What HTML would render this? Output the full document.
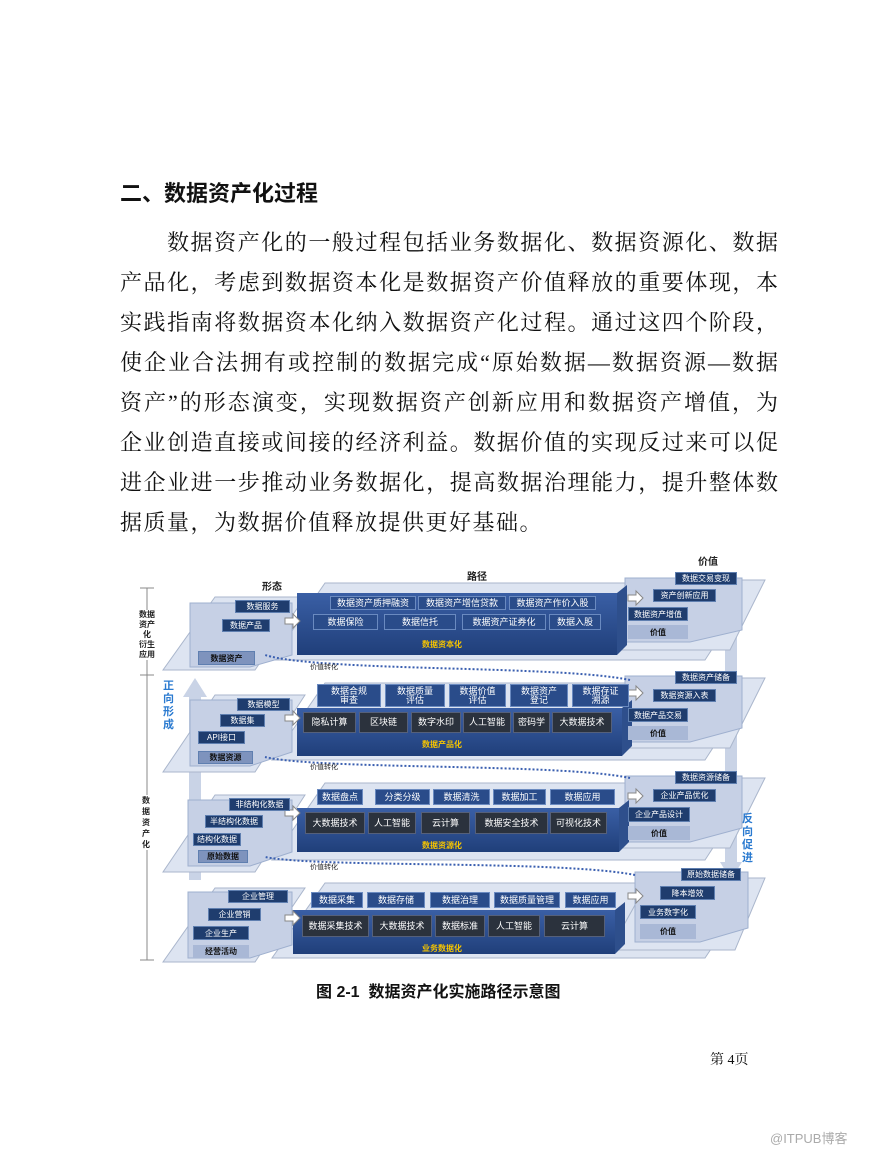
<!DOCTYPE html>
<html><head><meta charset="utf-8"><style>
body{margin:0;background:#fff;}
#p{position:relative;width:890px;height:1151px;overflow:hidden;font-family:"Liberation Sans","Noto Sans CJK SC",sans-serif;color:#111;}
.t{position:absolute;left:120px;width:658px;font-size:22px;line-height:26px;text-align:justify;text-align-last:justify;white-space:nowrap;font-family:"Liberation Serif","Noto Serif CJK SC",serif;}
.b{position:absolute;color:#fff;font-size:8px;display:flex;align-items:center;justify-content:center;text-align:center;line-height:9px;white-space:nowrap;}
.n{background:#1f3d6e;border:1px solid #5f7fb0;box-sizing:border-box;}
.k{background:#2b323d;border:1px solid #55607a;box-sizing:border-box;font-size:9px;}
.u{background:#2a4c8a;border:1px solid #6a8ac0;box-sizing:border-box;font-size:9px;}
.y{position:absolute;color:#f5c400;font-size:8px;font-weight:bold;}
.l{position:absolute;font-size:8px;color:#222;font-weight:bold;}
</style></head><body><div id="p">
<div style="position:absolute;left:120px;top:176px;font-size:22px;font-weight:bold;font-family:'Liberation Sans','Noto Sans CJK SC',sans-serif;">二、数据资产化过程</div>
<div class="t" style="top:230px;left:167px;width:611px">数据资产化的一般过程包括业务数据化、数据资源化、数据</div>
<div class="t" style="top:270px">产品化，考虑到数据资本化是数据资产价值释放的重要体现，本</div>
<div class="t" style="top:310px">实践指南将数据资本化纳入数据资产化过程。通过这四个阶段，</div>
<div class="t" style="top:350px">使企业合法拥有或控制的数据完成“原始数据—数据资源—数据</div>
<div class="t" style="top:390px">资产”的形态演变，实现数据资产创新应用和数据资产增值，为</div>
<div class="t" style="top:430px">企业创造直接或间接的经济利益。数据价值的实现反过来可以促</div>
<div class="t" style="top:470px">进企业进一步推动业务数据化，提高数据治理能力，提升整体数</div>
<div class="t" style="top:510px;text-align-last:left;letter-spacing:1.5px">据质量，为数据价值释放提供更好基础。</div>

<svg style="position:absolute;left:0;top:0" width="890" height="1151">
<defs><linearGradient id="g" x1="0" y1="0" x2="0" y2="1"><stop offset="0" stop-color="#3a5fa5"/><stop offset="1" stop-color="#203f7a"/></linearGradient></defs>
<g stroke="#888" stroke-width="1"><line x1="147" y1="588" x2="147" y2="960"/><line x1="140" y1="588" x2="154" y2="588"/><line x1="140" y1="675" x2="154" y2="675"/><line x1="140" y1="960" x2="154" y2="960"/></g>
<rect x="725" y="600" width="12" height="265" fill="#c9d3e6"/>
<polygon points="731,880 720,862 742,862" fill="#c9d3e6"/>
<rect x="189" y="695" width="12" height="185" fill="#c9d3e6"/>
<polygon points="195,678 183,697 207,697" fill="#c9d3e6"/>
<g fill="#dde4f1" stroke="#aab6cc">
<polygon points="215,597 305,597 255,670 163,670"/><polygon points="325,583 755,583 705,660 272,660"/><polygon points="645,580 765,580 730,650 605,650"/>
<polygon points="215,695 305,695 255,772 163,772"/><polygon points="325,683 755,683 705,760 272,760"/><polygon points="645,678 765,678 730,748 605,748"/>
<polygon points="215,795 305,795 255,872 163,872"/><polygon points="325,783 755,783 705,860 272,860"/><polygon points="645,778 765,778 730,848 605,848"/>
<polygon points="215,888 305,888 255,962 163,962"/><polygon points="325,883 755,883 705,958 272,958"/><polygon points="650,878 765,878 735,950 610,950"/>
</g>
<g fill="#c6d0e5" stroke="#9fb0cf"><polygon points="190,603 292,603 292,655 250,667 190,667"/><polygon points="190,700 292,700 292,752 250,766 190,766"/><polygon points="188,800 292,800 292,852 250,866 188,866"/><polygon points="188,892 292,892 292,945 250,958 188,958"/>
<polygon points="625,578 742,578 742,630 690,642 625,642"/><polygon points="625,676 742,676 742,728 690,742 625,742"/><polygon points="625,776 742,776 742,828 690,842 625,842"/><polygon points="635,872 748,872 748,928 700,942 635,942"/></g>
<g fill="url(#g)"><rect x="297" y="593" width="320" height="62"/><rect x="297" y="708" width="325" height="48"/><rect x="297" y="808" width="322" height="44"/><rect x="293" y="910" width="322" height="44"/></g>
<g fill="#2e4f8c"><polygon points="617,593 627,585 627,645 617,655"/><polygon points="622,708 632,700 632,746 622,756"/><polygon points="619,808 629,800 629,842 619,852"/><polygon points="615,910 625,902 625,944 615,954"/></g>
<g fill="none" stroke="#3a5fb0" stroke-width="2" stroke-dasharray="2,2">
<path d="M630,680 C560,665 320,672 265,655"/><path d="M630,778 C560,763 320,770 265,757"/><path d="M635,875 C560,860 320,868 265,857"/></g>
<g fill="#fff" stroke="#888"><polygon points="285,618 293,618 293,614 300,621 293,628 293,624 285,624"/><polygon points="285,715 293,715 293,711 300,718 293,725 293,721 285,721"/><polygon points="285,810 293,810 293,806 300,813 293,820 293,816 285,816"/><polygon points="285,915 293,915 293,911 300,918 293,925 293,921 285,921"/>
<polygon points="628,595 636,595 636,591 643,598 636,605 636,601 628,601"/><polygon points="628,690 636,690 636,686 643,693 636,700 636,696 628,696"/><polygon points="628,793 636,793 636,789 643,796 636,803 636,799 628,799"/><polygon points="628,893 636,893 636,889 643,896 636,903 636,899 628,899"/></g>
</svg>
<div class="l" style="left:262px;top:578px;font-size:10px">形态</div>
<div class="l" style="left:467px;top:568px;font-size:10px">路径</div>
<div class="l" style="left:698px;top:553px;font-size:10px">价值</div>
<div class="l" style="left:135px;top:610px;width:24px;text-align:center;line-height:10px;background:#fff">数据<br>资产<br>化<br>衍生<br>应用</div>
<div class="l" style="left:142px;top:795px;width:10px;line-height:11px;background:#fff">数据资产化</div>
<div style="position:absolute;left:163px;top:680px;width:12px;font-size:11px;font-weight:bold;color:#2a7ad0;line-height:13px">正向形成</div>
<div style="position:absolute;left:742px;top:813px;width:12px;font-size:11px;font-weight:bold;color:#2a7ad0;line-height:13px">反向促进</div>
<div class="l" style="left:310px;top:662px;font-weight:normal;font-size:7px">价值转化</div>
<div class="l" style="left:310px;top:762px;font-weight:normal;font-size:7px">价值转化</div>
<div class="l" style="left:310px;top:862px;font-weight:normal;font-size:7px">价值转化</div>

<div class="b n" style="left:235px;top:600px;width:55px;height:13px">数据服务</div>
<div class="b n" style="left:222px;top:619px;width:48px;height:13px">数据产品</div>
<div class="b n" style="left:198px;top:651px;width:57px;height:14px;background:#7e93bd;color:#111;font-weight:bold">数据资产</div>
<div class="b u" style="left:330px;top:596px;width:86px;height:14px">数据资产质押融资</div>
<div class="b u" style="left:418px;top:596px;width:88px;height:14px">数据资产增信贷款</div>
<div class="b u" style="left:509px;top:596px;width:87px;height:14px">数据资产作价入股</div>
<div class="b u" style="left:313px;top:614px;width:65px;height:16px">数据保险</div>
<div class="b u" style="left:384px;top:614px;width:72px;height:16px">数据信托</div>
<div class="b u" style="left:462px;top:614px;width:84px;height:16px">数据资产证券化</div>
<div class="b u" style="left:549px;top:614px;width:52px;height:16px">数据入股</div>
<div class="y" style="left:422px;top:639px">数据资本化</div>
<div class="b n" style="left:675px;top:572px;width:62px;height:13px">数据交易变现</div>
<div class="b n" style="left:653px;top:589px;width:63px;height:13px">资产创新应用</div>
<div class="b n" style="left:628px;top:607px;width:60px;height:14px">数据资产增值</div>
<div class="b" style="left:628px;top:625px;width:60px;height:14px;color:#111;font-weight:bold;background:#a9b8d6">价值</div>

<div class="b n" style="left:237px;top:698px;width:53px;height:13px">数据模型</div>
<div class="b n" style="left:220px;top:714px;width:45px;height:13px">数据集</div>
<div class="b n" style="left:198px;top:731px;width:47px;height:13px">API接口</div>
<div class="b n" style="left:198px;top:751px;width:55px;height:13px;background:#7e93bd;color:#111;font-weight:bold">数据资源</div>
<div class="b u" style="left:317px;top:684px;width:64px;height:23px">数据合规<br>审查</div>
<div class="b u" style="left:385px;top:684px;width:60px;height:23px">数据质量<br>评估</div>
<div class="b u" style="left:449px;top:684px;width:57px;height:23px">数据价值<br>评估</div>
<div class="b u" style="left:510px;top:684px;width:58px;height:23px">数据资产<br>登记</div>
<div class="b u" style="left:572px;top:684px;width:57px;height:23px">数据存证<br>溯源</div>
<div class="b k" style="left:303px;top:712px;width:53px;height:21px">隐私计算</div>
<div class="b k" style="left:359px;top:712px;width:49px;height:21px">区块链</div>
<div class="b k" style="left:411px;top:712px;width:50px;height:21px">数字水印</div>
<div class="b k" style="left:463px;top:712px;width:48px;height:21px">人工智能</div>
<div class="b k" style="left:513px;top:712px;width:37px;height:21px">密码学</div>
<div class="b k" style="left:552px;top:712px;width:60px;height:21px">大数据技术</div>
<div class="y" style="left:422px;top:739px">数据产品化</div>
<div class="b n" style="left:675px;top:671px;width:62px;height:13px">数据资产储备</div>
<div class="b n" style="left:653px;top:689px;width:63px;height:13px">数据资源入表</div>
<div class="b n" style="left:628px;top:708px;width:60px;height:14px">数据产品交易</div>
<div class="b" style="left:628px;top:726px;width:60px;height:14px;color:#111;font-weight:bold;background:#a9b8d6">价值</div>

<div class="b n" style="left:229px;top:798px;width:61px;height:13px">非结构化数据</div>
<div class="b n" style="left:205px;top:815px;width:58px;height:13px">半结构化数据</div>
<div class="b n" style="left:193px;top:833px;width:48px;height:13px">结构化数据</div>
<div class="b n" style="left:198px;top:850px;width:50px;height:13px;background:#7e93bd;color:#111;font-weight:bold">原始数据</div>
<div class="b u" style="left:317px;top:789px;width:46px;height:16px">数据盘点</div>
<div class="b u" style="left:375px;top:789px;width:55px;height:16px">分类分级</div>
<div class="b u" style="left:433px;top:789px;width:57px;height:16px">数据清洗</div>
<div class="b u" style="left:493px;top:789px;width:53px;height:16px">数据加工</div>
<div class="b u" style="left:550px;top:789px;width:65px;height:16px">数据应用</div>
<div class="b k" style="left:305px;top:812px;width:60px;height:22px">大数据技术</div>
<div class="b k" style="left:368px;top:812px;width:48px;height:22px">人工智能</div>
<div class="b k" style="left:421px;top:812px;width:49px;height:22px">云计算</div>
<div class="b k" style="left:475px;top:812px;width:73px;height:22px">数据安全技术</div>
<div class="b k" style="left:550px;top:812px;width:57px;height:22px">可视化技术</div>
<div class="y" style="left:422px;top:840px">数据资源化</div>
<div class="b n" style="left:675px;top:771px;width:62px;height:13px">数据资源储备</div>
<div class="b n" style="left:653px;top:789px;width:63px;height:13px">企业产品优化</div>
<div class="b n" style="left:628px;top:807px;width:62px;height:15px">企业产品设计</div>
<div class="b" style="left:628px;top:826px;width:62px;height:14px;color:#111;font-weight:bold;background:#a9b8d6">价值</div>

<div class="b n" style="left:228px;top:890px;width:60px;height:13px">企业管理</div>
<div class="b n" style="left:208px;top:908px;width:53px;height:13px">企业营销</div>
<div class="b n" style="left:193px;top:926px;width:56px;height:14px">企业生产</div>
<div class="b" style="left:193px;top:945px;width:56px;height:13px;background:#a9b8d6;color:#111;font-weight:bold">经营活动</div>
<div class="b u" style="left:311px;top:892px;width:52px;height:16px">数据采集</div>
<div class="b u" style="left:367px;top:892px;width:58px;height:16px">数据存储</div>
<div class="b u" style="left:430px;top:892px;width:60px;height:16px">数据治理</div>
<div class="b u" style="left:494px;top:892px;width:66px;height:16px">数据质量管理</div>
<div class="b u" style="left:565px;top:892px;width:51px;height:16px">数据应用</div>
<div class="b k" style="left:302px;top:915px;width:67px;height:22px">数据采集技术</div>
<div class="b k" style="left:372px;top:915px;width:60px;height:22px">大数据技术</div>
<div class="b k" style="left:435px;top:915px;width:50px;height:22px">数据标准</div>
<div class="b k" style="left:488px;top:915px;width:52px;height:22px">人工智能</div>
<div class="b k" style="left:544px;top:915px;width:61px;height:22px">云计算</div>
<div class="y" style="left:422px;top:943px">业务数据化</div>
<div class="b n" style="left:681px;top:868px;width:60px;height:13px">原始数据储备</div>
<div class="b n" style="left:660px;top:886px;width:55px;height:14px">降本增效</div>
<div class="b n" style="left:640px;top:905px;width:56px;height:14px">业务数字化</div>
<div class="b" style="left:640px;top:924px;width:56px;height:15px;color:#111;font-weight:bold;background:#a9b8d6">价值</div>

<div style="position:absolute;left:316px;top:978px;font-size:16px;font-weight:bold;white-space:nowrap">图 2-1&nbsp; 数据资产化实施路径示意图</div>
<div style="position:absolute;left:710px;top:1049px;font-size:14px;font-family:'Liberation Serif','Noto Serif CJK SC',serif">第 4页</div>
<div style="position:absolute;left:770px;top:1128px;font-size:13px;color:#aaa">@ITPUB博客</div>
</div></body></html>
